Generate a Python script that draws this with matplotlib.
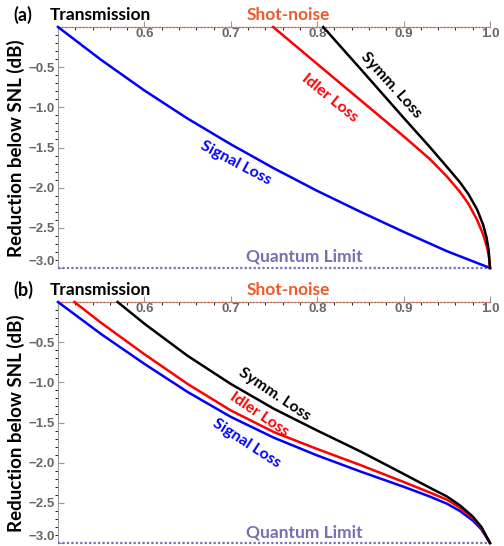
import numpy as np
import matplotlib
matplotlib.use("Agg")
import matplotlib.pyplot as plt

# ---- data (transmission, dB below SNL) ----
# panel (a)
a_sig_T = [0.5, 0.55, 0.6, 0.65, 0.7, 0.75, 0.8, 0.85, 0.9, 0.95, 1.0]
a_sig_dB = [0, -0.41, -0.79, -1.14, -1.46, -1.76, -2.04, -2.30, -2.55, -2.79, -3.0]
a_idl_T = [0.749, 0.8, 0.85, 0.9, 0.93, 0.95, 0.965, 0.975, 0.985, 0.992, 0.996, 0.9985, 1.0]
a_idl_dB = [0, -0.46, -0.91, -1.36, -1.64, -1.86, -2.05, -2.20, -2.40, -2.58, -2.72, -2.84, -3.0]
a_sym_T = [0.807, 0.85, 0.9, 0.93, 0.95, 0.965, 0.975, 0.985, 0.992, 0.996, 0.9985, 1.0]
a_sym_dB = [0, -0.52, -1.13, -1.49, -1.74, -1.93, -2.08, -2.27, -2.46, -2.62, -2.78, -3.0]

# panel (b)
b_sig_T = [0.5, 0.55, 0.6, 0.65, 0.7, 0.75, 0.8, 0.85, 0.9, 0.93, 0.95, 0.965, 0.98, 0.99, 1.0]
b_sig_dB = [0, -0.40, -0.77, -1.12, -1.43, -1.69, -1.91, -2.11, -2.30, -2.42, -2.51, -2.60, -2.72, -2.83, -3.0]
b_idl_T = [0.519, 0.55, 0.6, 0.65, 0.7, 0.75, 0.8, 0.85, 0.9, 0.93, 0.95, 0.965, 0.98, 0.99, 1.0]
b_idl_dB = [0, -0.26, -0.65, -1.02, -1.35, -1.62, -1.83, -2.03, -2.24, -2.37, -2.46, -2.56, -2.69, -2.81, -3.0]
b_sym_T = [0.569, 0.6, 0.65, 0.7, 0.75, 0.8, 0.85, 0.9, 0.93, 0.95, 0.965, 0.98, 0.99, 1.0]
b_sym_dB = [0, -0.27, -0.67, -1.02, -1.33, -1.60, -1.86, -2.14, -2.31, -2.42, -2.53, -2.67, -2.80, -3.0]

xticks = [0.6, 0.7, 0.8, 0.9, 1.0]
yticks = [-3.0, -2.5, -2.0, -1.5, -1.0, -0.5]

W, H = 504, 546
fig = plt.figure(figsize=(W / 100, H / 100), dpi=100)

FONT = "Lato"
grey = "#9a9a9a"
tickgrey = "#666666"
orange = "#ec5b2a"
purple = "#7b6cb3"


def px(x, y):
    return x / W, 1 - y / H


def make_axes(top):
    ax = fig.add_axes([58 / W, 1 - (top + 241) / H, 432 / W, 241 / H])
    ax.set_xlim(0.5, 1.0)
    ax.set_ylim(-3.0, 0.0)
    for s in ["right", "top"]:
        ax.spines[s].set_visible(False)
    ax.spines["bottom"].set_position(("data", 0))
    ax.spines["bottom"].set_color(grey)
    ax.spines["left"].set_color(grey)
    ax.set_xticks(xticks)
    ax.set_xticklabels(["%.1f" % t for t in xticks])
    ax.set_yticks(yticks)
    ax.set_yticklabels(["\u2212%.1f" % abs(t) for t in yticks])
    ax.set_xticks(np.arange(0.52, 1.0, 0.02), minor=True)
    ax.set_yticks(np.arange(-2.9, 0, 0.1), minor=True)
    ax.tick_params(axis="both", colors=grey, labelcolor=tickgrey, labelsize=9.5)
    ax.tick_params(axis="x", direction="in", length=4, pad=1)
    ax.tick_params(axis="y", direction="in", length=4, pad=2)
    ax.tick_params(which="minor", length=2)
    for lab in ax.get_xticklabels() + ax.get_yticklabels():
        lab.set_fontweight("bold")
        lab.set_family("Liberation Sans")
    ax.get_yticklabels()[0].set_va("bottom")
    # reference levels
    ax.plot([0.5, 1.0], [0, 0], color=orange, lw=1.0, ls=(0, (1, 1.5)), clip_on=False, zorder=3)
    ax.plot([0.5, 1.0], [-3, -3], color=purple, lw=1.6, ls=(0, (1, 1)), clip_on=False, zorder=3)
    ax.set_facecolor("none")
    return ax


def curve_labels(ax, items):
    for txt, col, x, y, rot in items:
        ax.text(x, y, txt, color=col, rotation=rot, rotation_mode="anchor",
                ha="center", va="center", fontsize=11.5, fontweight="bold", family=FONT)


def panel_text(letter, top):
    fig.text(*px(23, top - 12), letter, ha="center", va="center", fontsize=13,
             fontweight="bold", family=FONT)
    fig.text(*px(100, top - 12), "Transmission", ha="center", va="center", fontsize=12.5,
             fontweight="bold", family=FONT)
    fig.text(*px(288, top - 12), "Shot-noise", ha="center", va="center", fontsize=12.5,
             fontweight="bold", family=FONT, color=orange)
    fig.text(*px(304, top + 230), "Quantum Limit", ha="center", va="center", fontsize=12.5,
             fontweight="bold", family=FONT, color=purple)
    fig.text(*px(16, top + 121), "Reduction below SNL (dB)", ha="center", va="center",
             rotation=90, fontsize=13.5, fontweight="bold", family=FONT)


# panel (a)
ax1 = make_axes(27)
ax1.plot(a_sig_T, a_sig_dB, color="#0000ff", lw=1.8, clip_on=False, zorder=4)
ax1.plot(a_idl_T, a_idl_dB, color="#ff0000", lw=1.8, clip_on=False, zorder=4)
ax1.plot(a_sym_T, a_sym_dB, color="black", lw=1.8, clip_on=False, zorder=5)
curve_labels(ax1, [
    ("Signal Loss", "#0000ff", 0.706, -1.70, -28),
    ("Idler Loss", "#ff0000", 0.815, -0.88, -39),
    ("Symm. Loss", "black", 0.886, -0.72, -48),
])
panel_text("(a)", 27)

# panel (b)
ax2 = make_axes(302)
ax2.plot(b_sig_T, b_sig_dB, color="#0000ff", lw=1.8, clip_on=False, zorder=4)
ax2.plot(b_idl_T, b_idl_dB, color="#ff0000", lw=1.8, clip_on=False, zorder=4)
ax2.plot(b_sym_T, b_sym_dB, color="black", lw=1.8, clip_on=False, zorder=5)
curve_labels(ax2, [
    ("Signal Loss", "#0000ff", 0.718, -1.76, -33),
    ("Idler Loss", "#ff0000", 0.733, -1.40, -34),
    ("Symm. Loss", "black", 0.75, -1.15, -34),
])
panel_text("(b)", 302)

fig.savefig("out.png", dpi=100)
